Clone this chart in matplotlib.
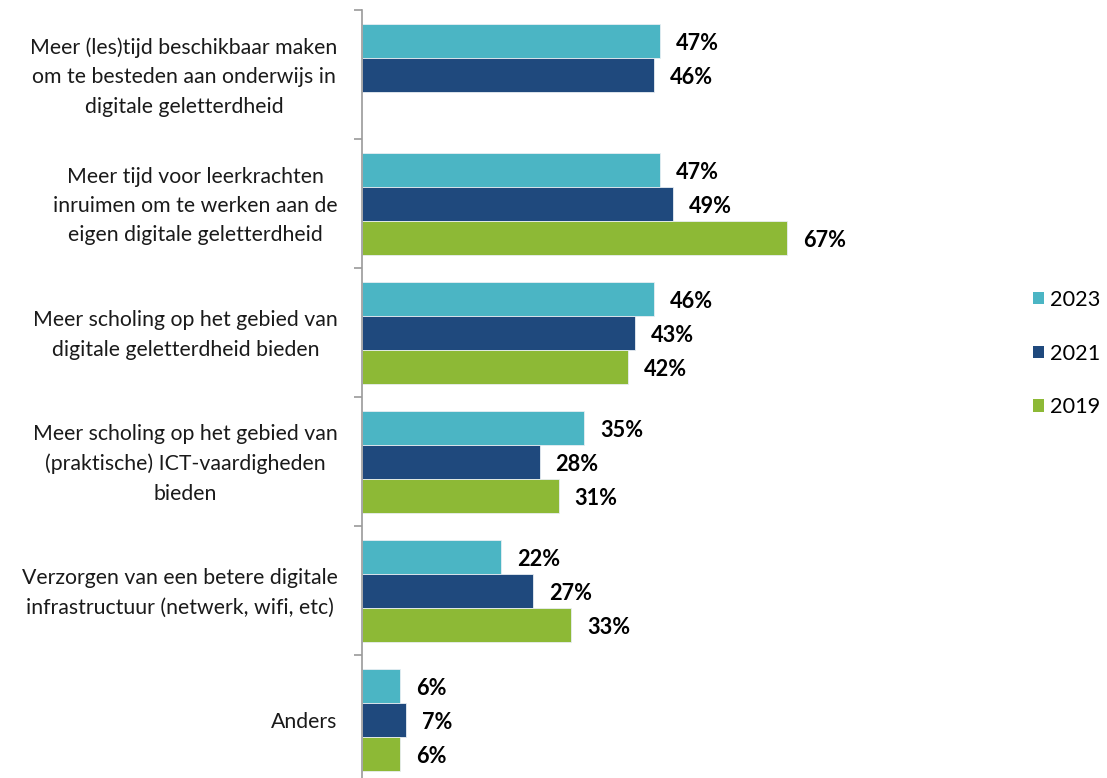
import numpy as np
import matplotlib
matplotlib.use("Agg")
import matplotlib.pyplot as plt
from matplotlib.patches import Patch

plt.rcParams['font.family'] = ['Lato', 'DejaVu Sans']

categories = [
    "Meer (les)tijd beschikbaar maken\nom te besteden aan onderwijs in\ndigitale geletterdheid",
    "Meer tijd voor leerkrachten\ninruimen om te werken aan de\neigen digitale geletterdheid",
    "Meer scholing op het gebied van\ndigitale geletterdheid bieden",
    "Meer scholing op het gebied van\n(praktische) ICT-vaardigheden\nbieden",
    "Verzorgen van een betere digitale\ninfrastructuur (netwerk, wifi, etc)",
    "Anders",
]
series_names = ["2023", "2021", "2019"]
v2023 = [47, 47, 46, 35, 22, 6]
v2021 = [46, 49, 43, 28, 27, 7]
v2019 = [None, 67, 42, 31, 33, 6]
colors = ["#4BB5C4", "#1F497D", "#8DB936"]

W, H = 1107, 778
fig = plt.figure(figsize=(W / 100, H / 100), dpi=100)
ax = fig.add_axes([362 / W, -6 / H, 634 / W, 774 / H])
ax.set_xlim(0, 100)
ax.set_ylim(len(categories), 0)

bar_h = 0.264
gap = 0.105
series = [v2023, v2021, v2019]
for k, (name, vals, col) in enumerate(zip(series_names, series, colors)):
    for i, v in enumerate(vals):
        if v is None:
            continue
        yc = i + gap + bar_h / 2 + k * bar_h
        ax.barh(yc, v, height=bar_h, color=col, edgecolor="#e8eef2", linewidth=0.6)
        ax.annotate(f"{v}%", xy=(v, yc), xytext=(11.5, -2.2), textcoords="offset points",
                    ha="left", va="center", fontsize=15.6, fontweight="bold", color="black")

for i, cat in enumerate(categories):
    ax.annotate(cat, xy=(0, i + 0.5), xytext=(-17.5, -1.8), textcoords="offset points",
                ha="right", va="center", multialignment="center", fontsize=15.3,
                linespacing=1.58, color="#1a1a1a", annotation_clip=False)

for s in ["top", "right", "bottom"]:
    ax.spines[s].set_visible(False)
ax.spines["left"].set_color("#9a9a9a")
ax.spines["left"].set_linewidth(1.2)
ax.set_xticks([])
ax.set_yticks(np.arange(0, len(categories) + 1))
ax.set_yticklabels([])
ax.tick_params(axis="y", direction="out", length=5.5, width=1.2, color="#9a9a9a")

handles = [Patch(facecolor=c, edgecolor="none") for c in colors]
fig.legend(handles, series_names, loc="upper left", bbox_to_anchor=(1033 / W, 1 - 290 / H),
           frameon=False, fontsize=15.6, handlelength=0.5, handleheight=0.5,
           handletextpad=0.3, labelspacing=1.55, borderpad=0, borderaxespad=0)

fig.savefig("out.png", dpi=100)
